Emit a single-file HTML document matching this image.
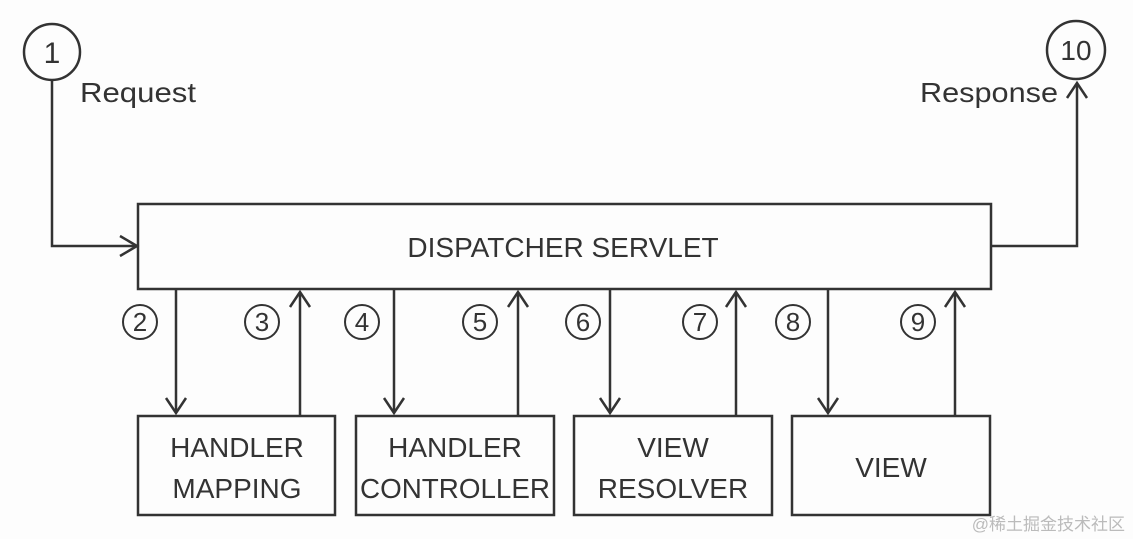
<!DOCTYPE html>
<html><head><meta charset="utf-8"><style>
html,body{margin:0;padding:0;background:#fdfdfd;}
svg{display:block;font-family:"Liberation Sans",sans-serif;}
</style></head><body>
<svg width="1133" height="539" viewBox="0 0 1133 539" xmlns="http://www.w3.org/2000/svg">
<rect width="1133" height="539" fill="#fdfdfd"/>
<g stroke="#333" stroke-width="2.5" fill="none">
<circle cx="52" cy="52" r="28"/>
<circle cx="1076" cy="50" r="29"/>
<rect x="138" y="204" width="853" height="85"/>
<rect x="138" y="416" width="197" height="99"/>
<rect x="356" y="416" width="198" height="99"/>
<rect x="574" y="416" width="198" height="99"/>
<rect x="792" y="416" width="198" height="99"/>
<path d="M52 80 V246 H136"/><path d="M120 236 L137 246 L120 256"/>
<path d="M991 246 H1077 V84"/><path d="M1067 98 L1077 83 L1087 98"/>
<path d="M176 289 V413"/><path d="M166 398 L176 413 L186 398"/>
<path d="M300 416 V292"/><path d="M290 307 L300 292 L310 307"/>
<path d="M394 289 V413"/><path d="M384 398 L394 413 L404 398"/>
<path d="M518 416 V292"/><path d="M508 307 L518 292 L528 307"/>
<path d="M610 289 V413"/><path d="M600 398 L610 413 L620 398"/>
<path d="M736 416 V292"/><path d="M726 307 L736 292 L746 307"/>
<path d="M828 289 V413"/><path d="M818 398 L828 413 L838 398"/>
<path d="M955 416 V292"/><path d="M945 307 L955 292 L965 307"/>
<g stroke-width="2">
<circle cx="140" cy="322" r="17"/><circle cx="262" cy="322" r="17"/>
<circle cx="362" cy="322" r="17"/><circle cx="480" cy="322" r="17"/>
<circle cx="583" cy="322" r="17"/><circle cx="700" cy="322" r="17"/>
<circle cx="793" cy="322" r="17"/><circle cx="918" cy="322" r="17"/>
</g>
</g>
<g fill="#333" text-anchor="middle">
<text x="52" y="63" font-size="30">1</text>
<text x="1076" y="60" font-size="28">10</text>
<g font-size="26">
<text x="140" y="331">2</text><text x="262" y="331">3</text>
<text x="362" y="331">4</text><text x="480" y="331">5</text>
<text x="583" y="331">6</text><text x="700" y="331">7</text>
<text x="793" y="331">8</text><text x="918" y="331">9</text>
</g>
<g font-size="28">
<text x="563" y="257">DISPATCHER SERVLET</text>
<text x="237" y="457">HANDLER</text><text x="237" y="498">MAPPING</text>
<text x="455" y="457">HANDLER</text><text x="455" y="498" textLength="190" lengthAdjust="spacingAndGlyphs">CONTROLLER</text>
<text x="673" y="457">VIEW</text><text x="673" y="498">RESOLVER</text>
<text x="891" y="477">VIEW</text>
</g>
<text x="80" y="102" font-size="28" text-anchor="start" textLength="116" lengthAdjust="spacingAndGlyphs">Request</text>
<text x="920" y="102" font-size="28" text-anchor="start" textLength="138" lengthAdjust="spacingAndGlyphs">Response</text>
<text x="1125" y="530" font-size="17" text-anchor="end" fill="#bbb" font-family="'Liberation Sans','Noto Sans CJK SC',sans-serif">@稀土掘金技术社区</text>
</g>
</svg>
</body></html>
